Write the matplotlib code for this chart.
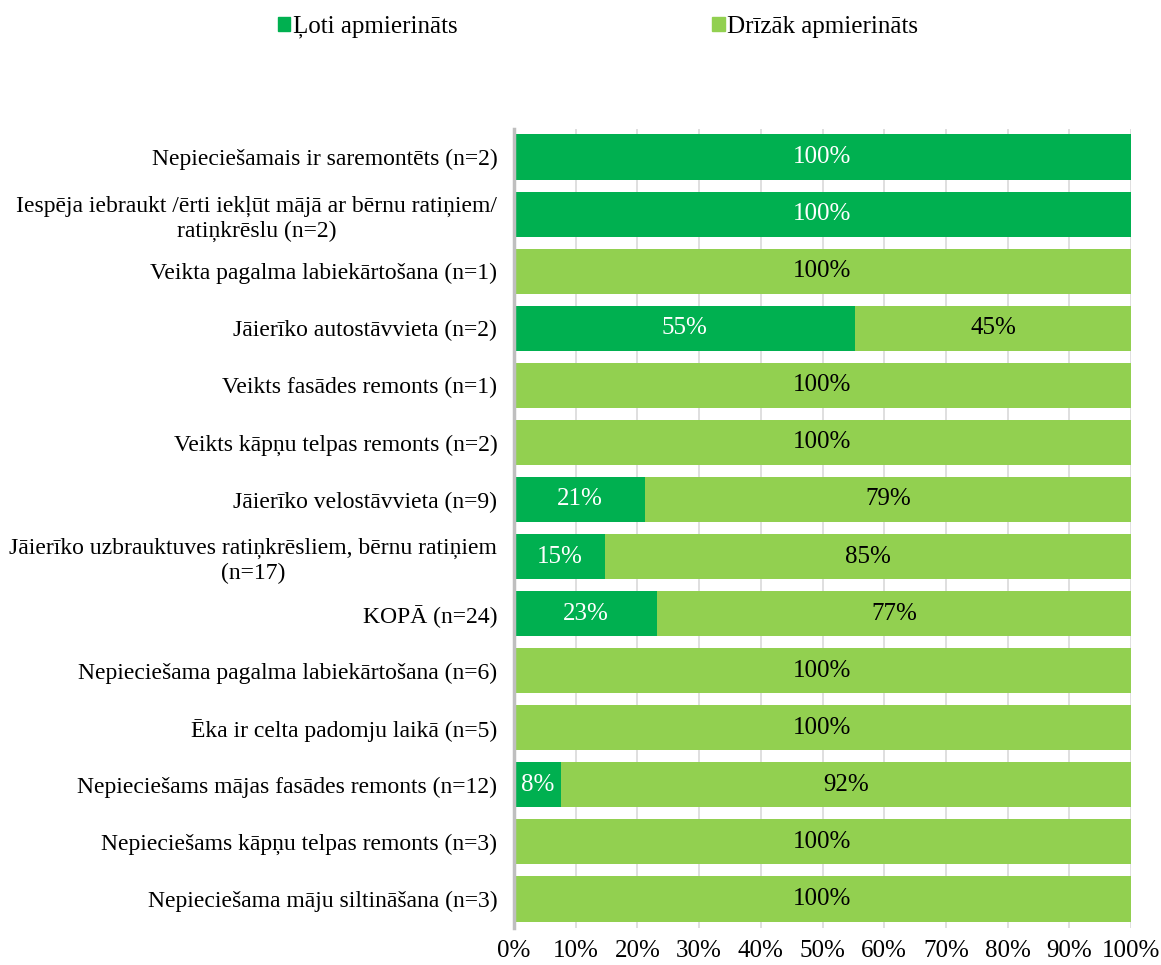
import matplotlib
matplotlib.use("Agg")
import matplotlib.pyplot as plt
from matplotlib.patches import Patch
import numpy as np

plt.rcParams['font.family'] = ['Liberation Serif', 'DejaVu Serif']

categories = [
    "Nepieciešamais ir saremontēts (n=2)",
    "Iespēja iebraukt /ērti iekļūt mājā ar bērnu ratiņiem/\nratiņkrēslu (n=2)",
    "Veikta pagalma labiekārtošana (n=1)",
    "Jāierīko autostāvvieta (n=2)",
    "Veikts fasādes remonts (n=1)",
    "Veikts kāpņu telpas remonts (n=2)",
    "Jāierīko velostāvvieta (n=9)",
    "Jāierīko uzbrauktuves ratiņkrēsliem, bērnu ratiņiem\n(n=17)",
    "KOPĀ (n=24)",
    "Nepieciešama pagalma labiekārtošana (n=6)",
    "Ēka ir celta padomju laikā (n=5)",
    "Nepieciešams mājas fasādes remonts (n=12)",
    "Nepieciešams kāpņu telpas remonts (n=3)",
    "Nepieciešama māju siltināšana (n=3)",
]
very_satisfied = [100, 100, 0, 55.3, 0, 0, 21.2, 14.7, 23.2, 0, 0, 7.6, 0, 0]
rather_satisfied = [0, 0, 100, 44.7, 100, 100, 78.8, 85.3, 76.8, 100, 100, 92.4, 100, 100]
series_names = ["Ļoti apmierināts", "Drīzāk apmierināts"]
colors = ["#00B050", "#92D050"]
xticks = list(range(0, 101, 10))

fig = plt.figure(figsize=(11.61, 9.65), dpi=100)
ax = fig.add_axes([514/1161, 1-927.5/965, (1131-514)/1161, (927.5-128.5)/965])

y = np.arange(len(categories))
v1 = np.array(very_satisfied)
v2 = np.array(rather_satisfied)
h = 0.79
ax.barh(y, v1, height=h, color=colors[0], zorder=2)
ax.barh(y, v2, left=v1, height=h, color=colors[1], zorder=2)

fs_y = 17
fs_d = 18
for i in range(len(categories)):
    if v1[i] > 0:
        ax.text(v1[i]/2, y[i], f"{round(v1[i]):d}%", ha='center', va='center',
                color='white', fontsize=fs_d, zorder=3)
    if v2[i] > 0:
        ax.text(v1[i] + v2[i]/2, y[i], f"{round(v2[i]):d}%", ha='center', va='center',
                color='black', fontsize=fs_d, zorder=3)

ax.set_xlim(0, 100)
ax.set_ylim(len(categories)-0.5, -0.5)
ax.set_yticks(y)
ax.set_yticklabels(categories, fontsize=fs_y, ha='right', multialignment='center',
                   linespacing=1.25)
ax.set_xticks(xticks)
ax.set_xticklabels([f"{t}%" for t in xticks], fontsize=fs_d)
ax.tick_params(axis='both', length=0)
ax.tick_params(axis='y', pad=12)
ax.tick_params(axis='x', pad=9)
ax.grid(axis='x', color='#D9D9D9', linewidth=1.2, zorder=0)
for s in ['top', 'right', 'bottom']:
    ax.spines[s].set_visible(False)
ax.spines['left'].set_color('#BFBFBF')
ax.spines['left'].set_linewidth(2.5)
ax.spines['left'].set_zorder(4)

handles = [Patch(color=colors[0]), Patch(color=colors[1])]
fig.legend(handles, series_names, loc='center', bbox_to_anchor=(0.515, 0.972), ncol=2,
           frameon=False, fontsize=fs_d, handlelength=0.5, handleheight=0.5,
           handletextpad=0.1, columnspacing=10.2)

fig.savefig("out.png", dpi=100)
